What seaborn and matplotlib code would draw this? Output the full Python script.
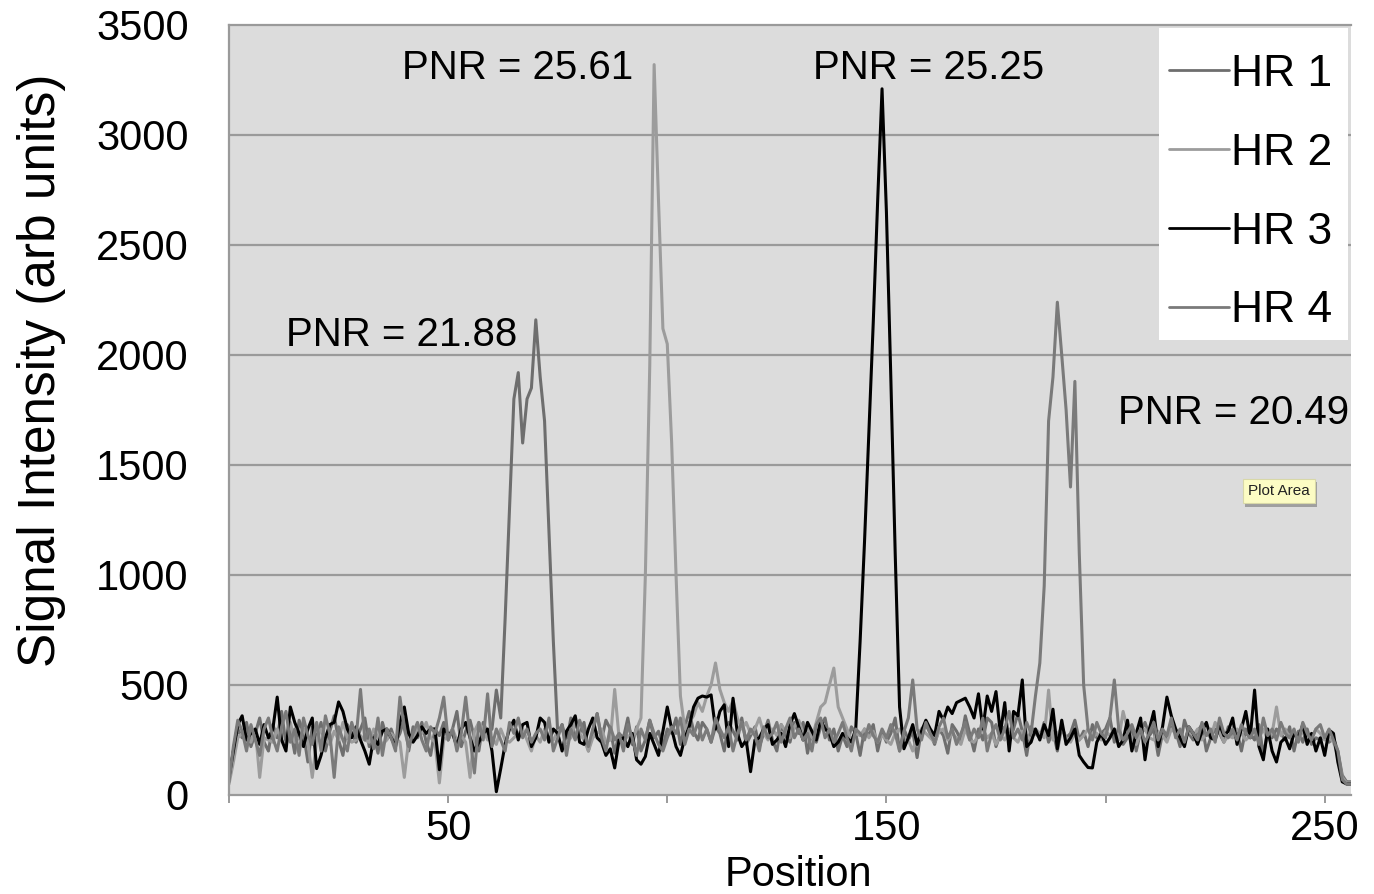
import numpy as np
import pandas as pd
import matplotlib
matplotlib.use("Agg")
import matplotlib.pyplot as plt
import matplotlib.patheffects as pe
from matplotlib.patches import Rectangle
import seaborn as sns

# ---------------- data ----------------
series_names = ["HR 1", "HR 2", "HR 3", "HR 4"]
series_colors = ["#6e6e6e", "#9c9c9c", "#000000", "#7a7a7a"]

hr1 = [
    70, 200, 300, 260, 330, 220, 280, 350, 240, 200,
    320, 260, 380, 230, 300, 190, 340, 280, 150, 310,
    260, 330, 200, 290, 360, 250, 180, 320, 280, 240,
    300, 350, 220, 270, 190, 330, 260, 300, 240, 280,
    350, 200, 310, 260, 330, 240, 180, 300, 270, 330,
    250, 300, 380, 220, 290, 340, 260, 200, 330, 280,
    300, 477, 350, 800, 1300, 1800, 1920, 1600, 1800, 1850,
    2160, 1900, 1700, 1200, 700, 280, 320, 240, 350, 260,
    280, 330, 200, 290, 370, 250, 340, 300, 190, 280,
    260, 350, 230, 310, 200, 250, 340, 260, 290, 220,
    300, 280, 350, 230, 310, 380, 290, 250, 330, 300,
    240, 310, 280, 200, 330, 290, 250, 350, 230, 270,
    310, 220, 280, 340, 250, 200, 320, 270, 240, 330,
    280, 330, 190, 290, 240, 310, 350, 250, 300, 200,
    270, 220, 310, 280, 180, 300, 270, 320, 200, 290,
    240, 280, 350, 200, 300, 250, 290, 170, 300, 320,
    280, 230, 300, 270, 190, 320, 290, 250, 360, 280,
    200, 300, 250, 350, 330, 220, 280, 310, 240, 300,
    370, 290, 180, 310, 280, 260, 330, 240, 290, 200,
    310, 260, 280, 340, 250, 290, 220, 320, 260, 280,
    300, 350, 240, 310, 230, 260, 300, 200, 290, 330,
    270, 300, 180, 280, 250, 310, 290, 220, 340, 280,
    250, 290, 320, 200, 260, 300, 280, 240, 310, 270,
    290, 200, 300, 280, 250, 320, 180, 290, 260, 300,
    280, 250, 310, 200, 290, 240, 300, 230, 260, 250,
    270, 240, 260, 200, 90, 60, 60,
]

hr2 = [
    50, 150, 260, 280, 250, 240, 300, 80, 260, 250,
    240, 300, 250, 230, 330, 240, 260, 300, 240, 80,
    250, 300, 260, 230, 290, 250, 330, 260, 240, 250,
    270, 250, 240, 300, 260, 230, 250, 280, 260, 240,
    80, 250, 260, 300, 280, 330, 260, 240, 55, 250,
    270, 300, 250, 270, 240, 80, 290, 330, 300, 250,
    260, 230, 300, 250, 240, 260, 280, 300, 250, 200,
    270, 240, 300, 260, 250, 290, 300, 240, 260, 330,
    280, 250, 200, 260, 280, 300, 240, 250, 480, 260,
    240, 270, 250, 300, 350, 1000, 1950, 3320, 2700, 2120,
    2050, 1600, 1000, 450, 300, 330, 360, 420, 380, 450,
    500, 600, 480, 420, 380, 430, 350, 300, 330, 280,
    300, 350, 280, 250, 300, 270, 320, 290, 260, 310,
    340, 280, 300, 260, 330, 400, 420, 500, 577, 400,
    350, 300, 250, 280, 270, 300, 260, 290, 240, 270,
    250, 230, 280, 300, 260, 250, 200, 270, 300, 280,
    260, 240, 290, 300, 250, 280, 260, 230, 300, 250,
    240, 270, 300, 260, 280, 230, 270, 250, 300, 260,
    240, 290, 270, 250, 300, 280, 260, 477, 250, 280,
    300, 260, 240, 280, 250, 270, 300, 260, 280, 250,
    290, 270, 300, 250, 380, 300, 260, 230, 280, 300,
    260, 250, 290, 270, 240, 300, 280, 260, 250, 290,
    270, 300, 250, 280, 260, 330, 290, 240, 270, 260,
    300, 280, 250, 270, 290, 260, 300, 250, 280, 400,
    270, 300, 260, 280, 250, 290, 270, 260, 300, 280,
    250, 260, 240, 180, 80, 55, 55,
]

hr3 = [
    80, 200, 320, 360, 250, 280, 300, 230, 320, 260,
    300, 445, 250, 200, 400, 330, 280, 220, 300, 350,
    120, 180, 260, 320, 330, 423, 380, 300, 260, 310,
    250, 200, 140, 260, 230, 290, 300, 260, 220, 330,
    400, 280, 240, 270, 310, 280, 300, 300, 115, 300,
    280, 280, 220, 300, 330, 260, 200, 240, 280, 300,
    200, 15, 120, 230, 300, 340, 250, 320, 330, 220,
    260, 350, 330, 240, 300, 280, 200, 290, 320, 360,
    240, 230, 300, 350, 260, 240, 180, 210, 123, 250,
    260, 220, 280, 160, 140, 175, 280, 230, 180, 290,
    400, 300, 220, 180, 260, 310, 400, 440, 450, 445,
    455, 300, 380, 410, 220, 440, 280, 220, 250, 106,
    250, 260, 300, 320, 230, 250, 280, 220, 320, 370,
    310, 250, 330, 290, 250, 340, 300, 280, 220, 240,
    280, 260, 240, 300, 700, 1150, 1650, 2150, 2700, 3210,
    2650, 1900, 1100, 400, 210, 260, 320, 230, 290, 340,
    300, 270, 380, 340, 400, 370, 420, 430, 440, 400,
    350, 460, 300, 450, 380, 470, 280, 420, 200, 380,
    360, 523, 220, 240, 300, 250, 320, 270, 390, 210,
    340, 230, 260, 300, 180, 150, 125, 123, 240, 280,
    230, 260, 300, 220, 250, 340, 200, 280, 350, 160,
    300, 380, 220, 310, 445, 360, 300, 260, 220, 310,
    280, 230, 290, 330, 260, 250, 320, 270, 290, 350,
    230, 300, 380, 260, 477, 220, 160, 300, 200, 150,
    240, 260, 210, 280, 260, 320, 230, 280, 200, 260,
    180, 295, 280, 150, 60, 50, 50,
]

hr4 = [
    60, 220, 340, 290, 200, 320, 250, 180, 300, 350,
    260, 200, 310, 380, 240, 300, 180, 350, 270, 230,
    330, 200, 360, 280, 80, 310, 250, 200, 330, 260,
    480, 250, 300, 210, 350, 180, 300, 260, 200, 445,
    300, 220, 280, 330, 250, 200, 310, 280, 350, 445,
    250, 300, 200, 280, 445, 260, 100, 330, 250, 460,
    220, 300, 250, 200, 330, 280, 350, 260, 300, 240,
    280, 300, 250, 350, 200, 260, 320, 180, 300, 250,
    340, 280, 220, 300, 370, 260, 200, 310, 250, 280,
    200, 320, 260, 180, 300, 250, 340, 280, 230, 200,
    260, 310, 280, 350, 230, 300, 270, 330, 250, 300,
    240, 350, 300, 260, 310, 200, 280, 330, 250, 300,
    270, 200, 310, 260, 280, 330, 240, 300, 350, 260,
    300, 250, 280, 200, 320, 350, 260, 300, 240, 280,
    330, 260, 200, 300, 280, 250, 320, 270, 240, 300,
    260, 320, 280, 200, 290, 350, 523, 300, 250, 330,
    280, 240, 310, 350, 260, 300, 230, 280, 330, 250,
    300, 260, 350, 200, 280, 320, 250, 300, 380, 260,
    300, 250, 330, 280, 450, 600, 950, 1700, 1900, 2240,
    2000, 1750, 1400, 1880, 1100, 500, 300, 250, 330, 280,
    260, 350, 523, 300, 250, 280, 320, 260, 300, 240,
    280, 330, 250, 300, 270, 350, 260, 300, 240, 310,
    280, 250, 330, 270, 300, 240, 350, 280, 260, 300,
    250, 320, 280, 260, 300, 230, 350, 270, 300, 250,
    330, 280, 260, 300, 240, 330, 280, 250, 300, 320,
    260, 300, 250, 200, 70, 50, 50,
]

x_ticks = [0, 50, 100, 150, 200, 250]
x_tick_labels = ["", "50", "", "150", "", "250"]
y_ticks = [0, 500, 1000, 1500, 2000, 2500, 3000, 3500]

annotations = ["PNR = 25.61", "PNR = 25.25", "PNR = 21.88", "PNR = 20.49"]
annot_x = [65.8, 159.6, 39.5, 229.2]
annot_y = [3305, 3305, 2090, 1736]

# ---------------- build long-form table ----------------
frames = []
for name, vals in zip(series_names, [hr1, hr2, hr3, hr4]):
    frames.append(pd.DataFrame({"Position": np.arange(len(vals)),
                                "Signal": vals, "Series": name}))
df = pd.concat(frames, ignore_index=True)

# ---------------- styling ----------------
sns.set_style("white")
plt.rcParams["font.family"] = ["Liberation Sans", "DejaVu Sans"]
plt.rcParams["text.color"] = "black"
plt.rcParams["axes.labelcolor"] = "black"
plt.rcParams["xtick.labelcolor"] = "black"
plt.rcParams["ytick.labelcolor"] = "black"

W, H = 1374, 894
fig = plt.figure(figsize=(W / 100, H / 100), dpi=100)
ax = fig.add_axes([229 / W, 1 - 795 / H, (1351 - 229) / W, (795 - 25) / H])
ax.set_facecolor("#dcdcdc")

sns.lineplot(data=df, x="Position", y="Signal", hue="Series",
             palette=series_colors, hue_order=series_names,
             linewidth=2.2, estimator=None, sort=False, ax=ax, legend=True)

ax.set_xlim(0, 256)
ax.set_ylim(0, 3500)
ax.set_yticks(y_ticks)
ax.set_yticklabels([str(v) for v in y_ticks])
ax.set_xticks(x_ticks)
ax.set_xticklabels(x_tick_labels)

gcol = "#9a9a9a"
for v in y_ticks[1:-1]:
    ax.axhline(v, color=gcol, lw=1.6, zorder=0.5)

for s in ["left", "bottom", "top"]:
    ax.spines[s].set_visible(True)
    ax.spines[s].set_color(gcol)
    ax.spines[s].set_linewidth(1.6)
ax.spines["right"].set_visible(False)

ax.tick_params(axis="x", direction="out", length=6, width=1.4, color=gcol,
               labelsize=30, pad=4, bottom=True, labelcolor="black")
ax.tick_params(axis="y", length=0, labelsize=30, pad=29, left=True,
               labelcolor="black")

ax.set_xlabel("Position", fontsize=30, color="black")
ax.xaxis.set_label_coords((798 - 229) / 1122, (795 - 855) / 770)
ax.set_ylabel("Signal Intensity (arb units)", fontsize=37, color="black")
ax.yaxis.set_label_coords((66 - 229) / 1122, (795 - 370) / 770)

for t, xv, yv in zip(annotations, annot_x, annot_y):
    ax.text(xv, yv, t, fontsize=29, ha="center", va="center", zorder=5,
            color="black")

# white legend panel (drawn separately so the padding matches the original)
panel = Rectangle((1159 / W, 1 - 340 / H), (1348 - 1159) / W, (340 - 28) / H,
                  transform=fig.transFigure, facecolor="white",
                  edgecolor="none", zorder=4)
ax.add_patch(panel)
panel.set_clip_on(False)

handles, labels = ax.get_legend_handles_labels()
leg = ax.legend(handles, labels, loc="upper left",
                bbox_to_anchor=(1169 / W, 1 - 54 / H),
                bbox_transform=fig.transFigure,
                fontsize=32, frameon=False,
                handlelength=1.35, handletextpad=0.05, labelspacing=0.85,
                borderpad=0, borderaxespad=0)
leg.set_zorder(6)
for ln in leg.get_lines():
    ln.set_linewidth(2.0)
for txt in leg.get_texts():
    txt.set_color("black")

tip = fig.text(1279 / W, 1 - 491 / H, "Plot Area", fontsize=11, ha="center",
               va="center", color="#222222",
               bbox=dict(boxstyle="square,pad=0.35", facecolor="#fcfcc4",
                         edgecolor="#d8d8a8", linewidth=0.8))
tip.get_bbox_patch().set_path_effects(
    [pe.withSimplePatchShadow(offset=(1.5, -2.5), shadow_rgbFace="#555555", alpha=0.45)])

fig.savefig("out.png", dpi=100)
